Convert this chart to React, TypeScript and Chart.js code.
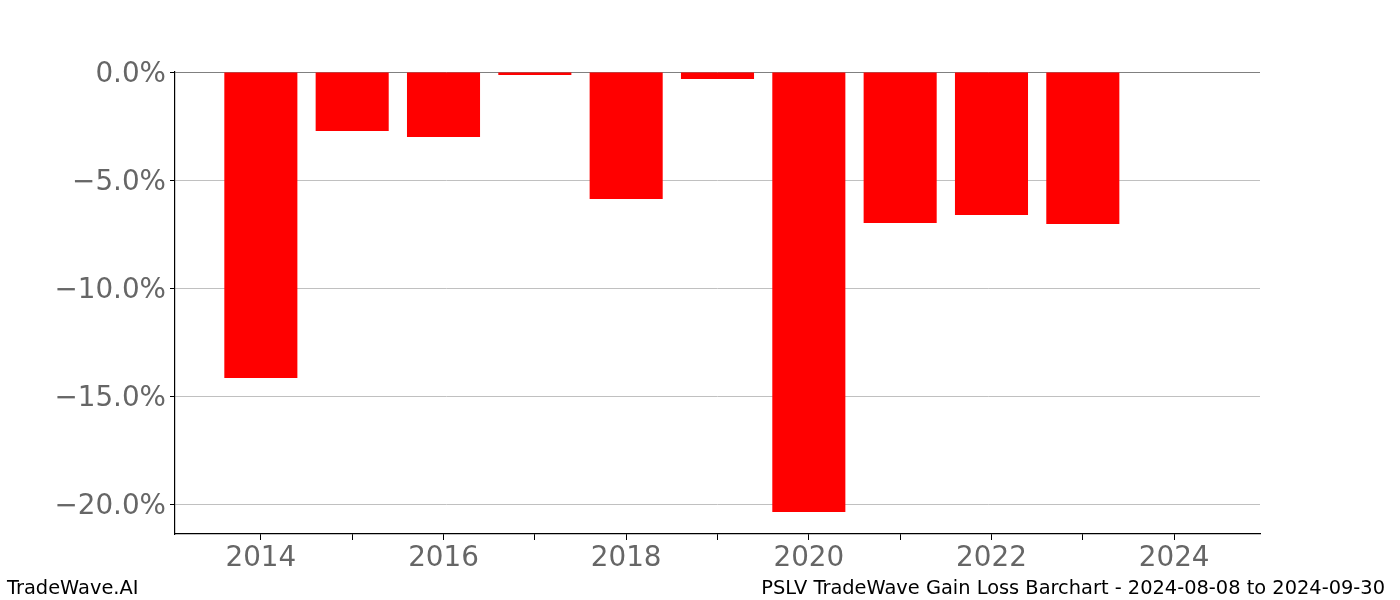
import React, { useEffect, useRef } from "react";
import { Chart, registerables } from "chart.js";

Chart.register(...registerables);

const years = [2014, 2015, 2016, 2017, 2018, 2019, 2020, 2021, 2022, 2023];
const gains = [-14.17, -2.73, -3.01, -0.14, -5.88, -0.32, -20.37, -6.99, -6.62, -7.04];
const xTickYears = [2014, 2015, 2016, 2017, 2018, 2019, 2020, 2021, 2022, 2023, 2024];
const yTickValues = [-20, -15, -10, -5, 0];
const footerLeft = "TradeWave.AI";
const footerRight = "PSLV TradeWave Gain Loss Barchart - 2024-08-08 to 2024-09-30";

const FONT = "'DejaVu Sans', sans-serif";

function fmtPct(v: number): string {
  const s = Math.abs(v).toFixed(1) + "%";
  return v < 0 ? "\u2212" + s : s;
}

export default function App() {
  const ref = useRef<HTMLCanvasElement | null>(null);

  useEffect(() => {
    if (!ref.current) return;
    const lo = 2013.6;
    const hi = 2024.4;
    const margin = (hi - lo) * 0.05;
    const yMin = Math.min(...gains) * 1.05;

    const footer = {
      id: "footer",
      afterDraw(chart: any) {
        const ctx = chart.ctx;
        ctx.save();
        ctx.fillStyle = "#000000";
        ctx.font = `19.4px ${FONT}`;
        ctx.textBaseline = "alphabetic";
        ctx.textAlign = "left";
        ctx.fillText(footerLeft, 7, 594);
        ctx.textAlign = "right";
        ctx.fillText(footerRight, 1385, 594);
        ctx.restore();
      },
    };

    const chart = new Chart(ref.current, {
      type: "bar",
      data: {
        datasets: [
          {
            data: years.map((y, i) => ({ x: y, y: gains[i] })),
            backgroundColor: "#ff0000",
            borderWidth: 0,
            barPercentage: 0.8,
            categoryPercentage: 1,
          },
        ],
      },
      options: {
        responsive: false,
        animation: false,
        devicePixelRatio: 1,
        layout: { padding: { left: 0, right: 140, top: 72, bottom: 0 } },
        plugins: {
          legend: { display: false },
          tooltip: { enabled: false },
          title: { display: false },
        },
        scales: {
          x: {
            type: "linear",
            offset: false,
            min: lo - margin,
            max: hi + margin,
            afterBuildTicks: (scale: any) => {
              scale.ticks = xTickYears.map((v) => ({ value: v }));
            },
            afterFit: (scale: any) => {
              scale.height = 66;
            },
            grid: {
              offset: false,
              drawOnChartArea: false,
              drawTicks: true,
              tickLength: 6,
              tickColor: "#000000",
              tickWidth: 1,
            },
            border: { display: true, color: "#000000", width: 1.2 },
            ticks: {
              autoSkip: false,
              maxRotation: 0,
              color: "#666666",
              padding: 2,
              font: { family: FONT, size: 27.8 },
              callback: (v: any) => (Number(v) % 2 === 0 ? String(v) : ""),
            },
          },
          y: {
            type: "linear",
            min: yMin,
            max: 0,
            afterBuildTicks: (scale: any) => {
              scale.ticks = yTickValues.map((v) => ({ value: v }));
            },
            afterFit: (scale: any) => {
              scale.width = 175;
            },
            grid: {
              drawTicks: true,
              tickLength: 5,
              tickColor: "#000000",
              color: (c: any) => (c.tick && c.tick.value === 0 ? "#808080" : "#c0c0c0"),
              lineWidth: 1,
            },
            border: { display: true, color: "#000000", width: 1.2 },
            ticks: {
              color: "#666666",
              padding: 4,
              font: { family: FONT, size: 27.8, lineHeight: "6px" },
              callback: (v: any) => ["", fmtPct(Number(v))],
            },
          },
        },
      },
      plugins: [footer],
    } as any);

    return () => chart.destroy();
  }, []);

  return (
    <div style={{ position: "absolute", left: 0, top: 0, width: 1400, height: 600, background: "#ffffff" }}>
      <canvas ref={ref} width={1400} height={600} style={{ width: 1400, height: 600 }} />
    </div>
  );
}
